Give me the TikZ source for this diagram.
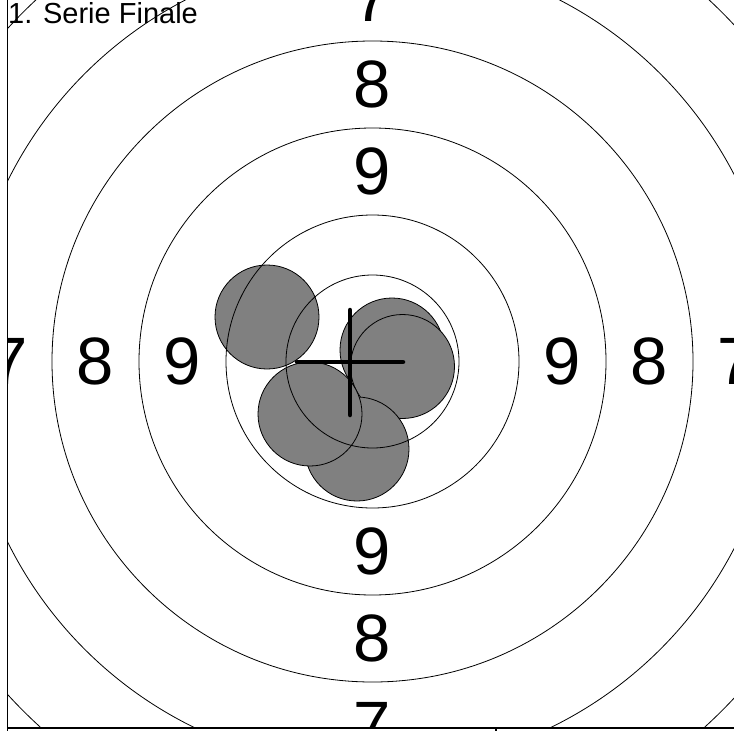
\documentclass[tikz,border=0pt]{standalone}
\usepackage{fontspec}
\setmainfont{Liberation Sans}
\definecolor{shotgray}{HTML}{808080}
\tikzset{
	ring/.style={draw=black, line width=0.8pt},
	shot/.style={circle, draw=black, fill=shotgray, line width=0.8pt, minimum size=104pt, inner sep=0pt},
	ringnum/.style={inner sep=0pt, font=\fontsize{67}{67}\selectfont},
	crosshair/.style={line width=4.5pt, line cap=round},
	axisline/.style={line width=1.2pt}
}

\begin{document}
\begin{tikzpicture}[x=1pt, y=-1pt]
        \useasboundingbox (0,0) rectangle (734,731);
        \coordinate (ctr) at (372.5,361.5);
        \coordinate (aim) at (350,362);

        \begin{scope}
            \clip (7.5,0) rectangle (734,728);

            \node[shot] (shotB) at (392,350) {};
            \node[shot] (shotC) at (402.5,366.5) {};
            \node[shot] (shotE) at (357,449) {};
            \node[shot] (shotD) at (310,414) {};
            \node[shot] (shotA) at (267,317) {};

            \foreach \r in {86.5,146.5,233.5,320.5,407,494}
                \draw[ring] (ctr) circle[radius=\r pt];

            \foreach \r/\n in {190/9, 277/8, 363.5/7} {
                \node[ringnum] (top\n) at ([yshift=\r pt]ctr) {\n};
                \node[ringnum] (bot\n) at ([yshift=-\r pt]ctr) {\n};
                \node[ringnum] (lft\n) at ([xshift=-\r pt]ctr) {\n};
                \node[ringnum] (rgt\n) at ([xshift=\r pt]ctr) {\n};
            }

            \draw[crosshair] ([xshift=-53pt]aim) -- ([xshift=53pt]aim);
            \draw[crosshair] ([yshift=52pt]aim) -- ([yshift=-53pt]aim);

            \node[anchor=base west, inner sep=0pt, font=\fontsize{29}{29}\selectfont] (title) at (8,23.5) {1. Serie Finale};
        \end{scope}

        \draw[axisline] (7.5,0) -- (7.5,731);
        \draw[axisline] (7.5,728) -- (734,728);
        \draw[axisline] (496,728) -- (496,731);
    \end{tikzpicture}
\end{document}
